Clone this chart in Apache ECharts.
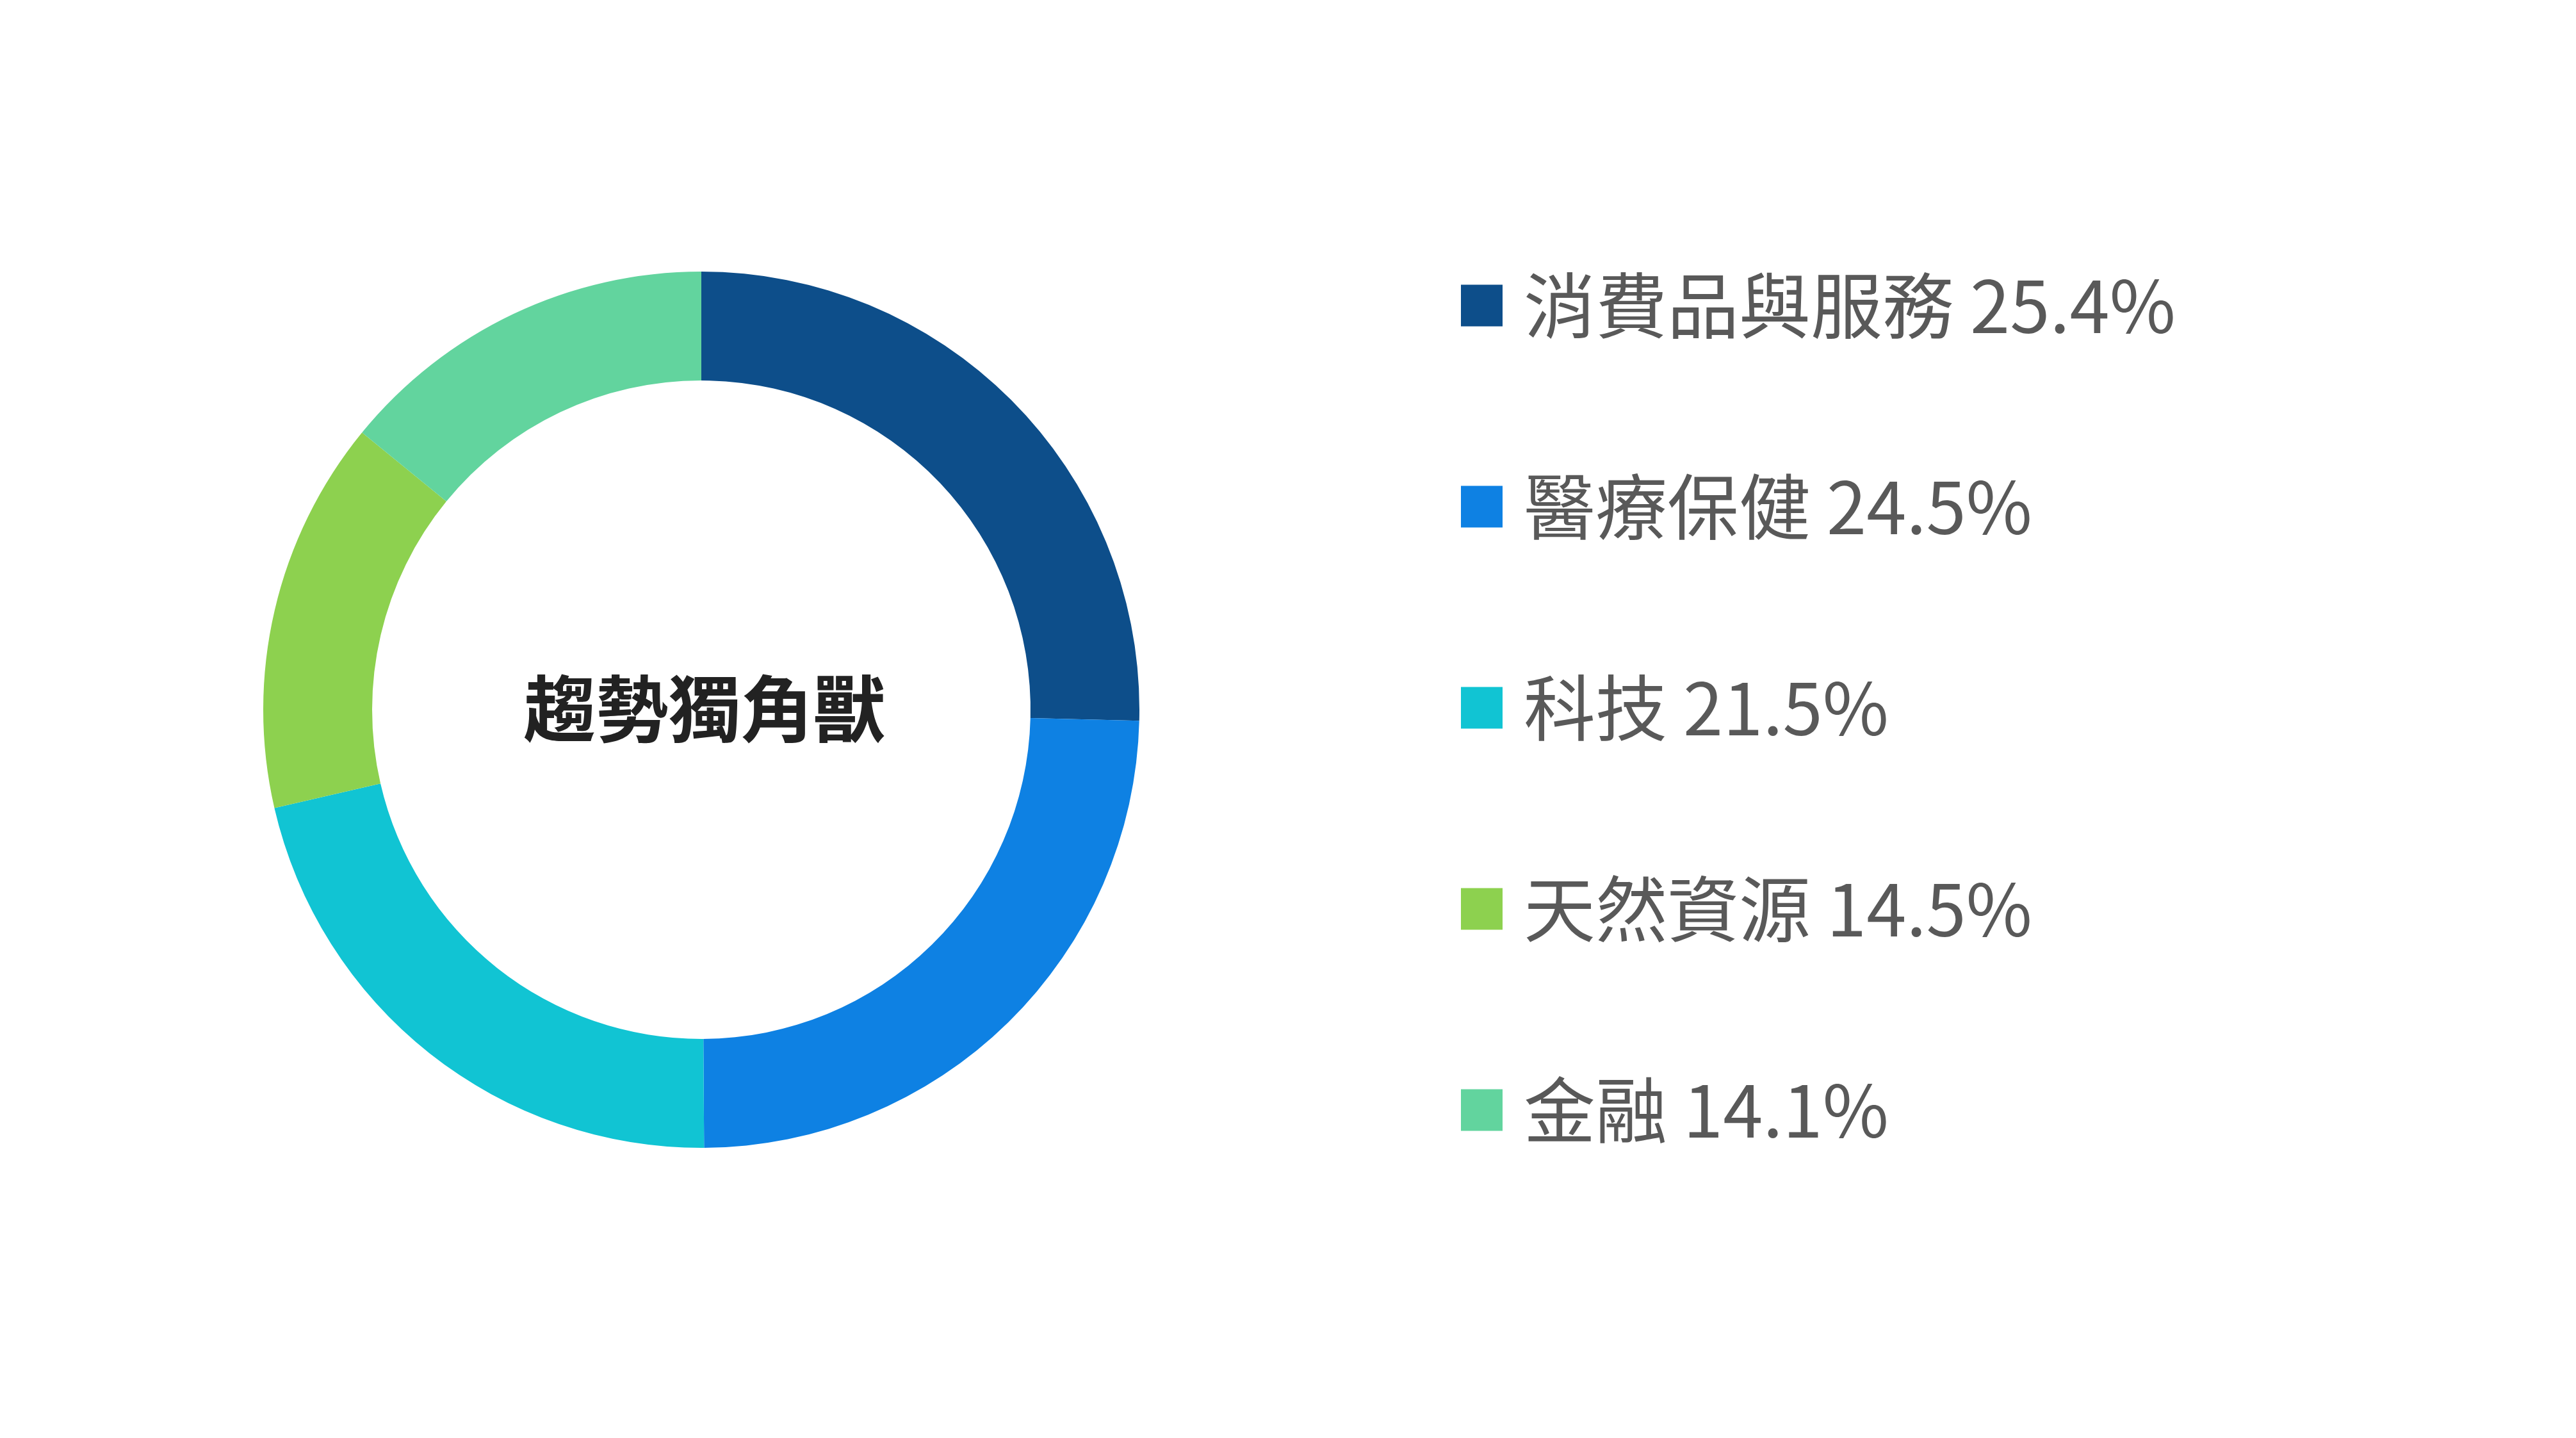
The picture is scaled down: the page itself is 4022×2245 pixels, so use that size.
<!DOCTYPE html>
<html>
<head>
<meta charset="utf-8">
<script src="https://cdn.jsdelivr.net/npm/echarts@6/dist/echarts.min.js"></script>
<style>
  html, body { margin: 0; padding: 0; background: #ffffff; }
  #chart { width: 4022px; height: 2245px; }
</style>
</head>
<body>
<div id="chart"></div>
<script>
// Sector allocation (percent)
const sectors = ['消費品與服務', '醫療保健', '科技', '天然資源', '金融'];
const weights = [25.4, 24.5, 21.5, 14.5, 14.1];
const sectorColors = ['#0D4E8A', '#0E81E3', '#11C4D3', '#8DD14F', '#62D49E'];
const centerTitle = '趨勢獨角獸';

const chart = echarts.init(document.getElementById('chart'), null, { renderer: 'canvas' });

const pieData = sectors.map((name, i) => ({ name: name, value: weights[i] }));
const valueOf = {};
sectors.forEach((n, i) => { valueOf[n] = weights[i]; });

const fontFamily = '"Noto Sans CJK TC", "Noto Sans", sans-serif';

chart.setOption({
  backgroundColor: '#ffffff',
  animation: false,
  color: sectorColors,
  title: {
    text: centerTitle,
    left: 1095,
    top: 1101,
    textAlign: 'center',
    textVerticalAlign: 'middle',
    textStyle: {
      fontFamily: fontFamily,
      fontSize: 113,
      fontWeight: 'bold',
      color: '#222222'
    }
  },
  legend: {
    orient: 'vertical',
    left: 2276,
    top: 407,
    itemWidth: 65,
    itemHeight: 65,
    itemGap: 184,
    icon: 'rect',
    selectedMode: false,
    data: sectors,
    formatter: name => name + ' ' + valueOf[name].toFixed(1) + '%',
    textStyle: {
      fontFamily: fontFamily,
      fontSize: 112,
      lineHeight: 130,
      color: '#595959',
      padding: [0, 0, 0, 28]
    }
  },
  series: [{
    type: 'pie',
    center: [1095, 1108],
    radius: [514, 684],
    startAngle: 90,
    clockwise: true,
    avoidLabelOverlap: false,
    label: { show: false },
    labelLine: { show: false },
    emphasis: { disabled: true },
    itemStyle: { borderWidth: 0 },
    data: pieData
  }]
});
</script>
</body>
</html>
